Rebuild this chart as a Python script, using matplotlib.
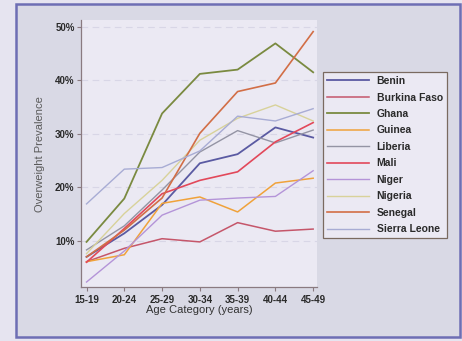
import matplotlib
matplotlib.use("Agg")
import matplotlib.pyplot as plt
from matplotlib.patches import Rectangle

plt.rcParams['font.family'] = ['Liberation Sans', 'DejaVu Sans']

# ---------------------- DATA ------------------------
age_groups = ['15-19', '20-24', '25-29', '30-34', '35-39', '40-44', '45-49']

benin        = [7.0, 11.4, 16.7, 24.5, 26.2, 31.2, 29.3]
burkina_faso = [6.1, 8.6, 10.4, 9.8, 13.4, 11.8, 12.2]
ghana        = [9.8, 17.9, 33.8, 41.2, 42.0, 46.9, 41.5]
guinea       = [6.1, 7.4, 17.0, 18.2, 15.4, 20.8, 21.7]
liberia      = [8.3, 12.8, 19.5, 26.6, 30.6, 28.3, 30.7]
mali         = [6.0, 12.3, 18.8, 21.3, 22.9, 28.5, 32.1]
niger        = [2.3, 8.1, 14.8, 17.6, 18.0, 18.3, 23.1]
nigeria      = [7.6, 15.1, 21.3, 28.8, 32.9, 35.4, 32.4]
senegal      = [7.0, 12.0, 18.0, 30.1, 37.9, 39.5, 49.1]
sierra_leone = [16.9, 23.4, 23.7, 26.8, 33.3, 32.4, 34.7]

countries = ['Benin', 'Burkina Faso', 'Ghana', 'Guinea', 'Liberia',
             'Mali', 'Niger', 'Nigeria', 'Senegal', 'Sierra Leone']
series = [benin, burkina_faso, ghana, guinea, liberia,
          mali, niger, nigeria, senegal, sierra_leone]
colors = ['#5a5aa2', '#c5566a', '#7a8a40', '#f0a23a', '#9494a4',
          '#e2485a', '#b494d8', '#d8d29a', '#d26e46', '#a8acd4']
widths = [1.3, 1.1, 1.3, 1.1, 1.0, 1.2, 1.0, 1.0, 1.2, 1.0]

# ---------------------- FIGURE ------------------------
fig = plt.figure(figsize=(4.62, 3.41), dpi=100, facecolor='#e6e4f0')

# outer panel + frame, kept behind the axes
fig.patches.append(Rectangle((0.035, 0.012), 0.96, 0.975, transform=fig.transFigure,
                             facecolor='#d9d9e5', edgecolor='#6e6eb4', linewidth=1.8,
                             zorder=-10))

ax = fig.add_axes([0.175, 0.158, 0.511, 0.783])
ax.set_facecolor('#ebe9f3')

x = range(len(age_groups))
for name, vals, c, lw in zip(countries, series, colors, widths):
    ax.plot(x, vals, color=c, linewidth=lw, label=name)

ax.set_xlim(-0.15, 6.1)
ax.set_ylim(1.35, 51.25)
ax.set_xticks(list(x))
ax.set_xticklabels(age_groups)
ax.set_yticks([10, 20, 30, 40, 50])
ax.set_yticklabels(['10%', '20%', '30%', '40%', '50%'])

for yv in [10, 20, 30, 40, 50]:
    ax.axhline(yv, color='#d8d6e6', linewidth=0.8, linestyle=(0, (6, 4)), zorder=0)

for side in ['top', 'right']:
    ax.spines[side].set_visible(False)
for side in ['left', 'bottom']:
    ax.spines[side].set_color('#8a7a80')
    ax.spines[side].set_linewidth(0.9)

ax.tick_params(axis='both', labelsize=7, colors='#8a7a80', labelcolor='#2a2a2a',
               length=3, width=0.8)
ax.tick_params(axis='x', pad=2.5)
ax.tick_params(axis='y', pad=1.5)
for lab in ax.get_xticklabels() + ax.get_yticklabels():
    lab.set_fontweight('bold')

ax.set_xlabel('Age Category (years)', fontsize=8, color='#333333', labelpad=0.5)
ax.set_ylabel('Overweight Prevalence', fontsize=8, color='#5a5a5a', labelpad=7)

leg = fig.legend(loc='upper left', bbox_to_anchor=(0.699, 0.789), fontsize=7.5,
                 frameon=True, fancybox=False, edgecolor='#7a6a60',
                 facecolor='#ebe9f3', framealpha=1, handlelength=4.0,
                 handletextpad=0.75, labelspacing=0.62, borderpad=0.4,
                 borderaxespad=0)
leg.get_frame().set_linewidth(0.9)
for t in leg.get_texts():
    t.set_fontweight('bold')
    t.set_color('#2a2a2a')

fig.savefig('out.png', dpi=100, facecolor=fig.get_facecolor())
